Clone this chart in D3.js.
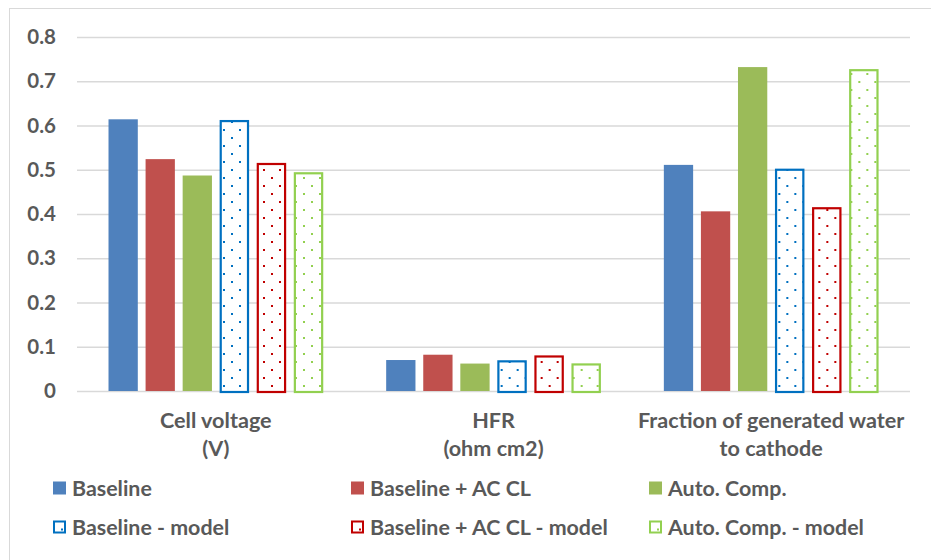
<!DOCTYPE html>
<html>
<head>
<meta charset="utf-8">
<script src="https://cdn.jsdelivr.net/npm/d3@7"></script>
<style>
  html, body { margin: 0; padding: 0; background: #fff; }
  svg { display: block; }
  text { font-family: Lato, "Open Sans", sans-serif; font-weight: 700; fill: #595959; }
</style>
</head>
<body>
<svg id="chart" width="931" height="560"></svg>
<script>
// Category labels (each label is split into lines)
const categories = ["Cell voltage", "HFR", "Fraction of generated water"];
const categoryLines = [["Cell voltage", "(V)"], ["HFR", "(ohm cm2)"], ["Fraction of generated water", "to cathode"]];

// Series names
const seriesNames = [
  "Baseline", "Baseline + AC CL", "Auto. Comp.",
  "Baseline - model", "Baseline + AC CL - model", "Auto. Comp. - model"
];

// Series values, one entry per category
const baseline        = [0.614, 0.070, 0.511];
const baselineAC      = [0.524, 0.082, 0.406];
const autoComp        = [0.487, 0.062, 0.732];
const baselineModel   = [0.610, 0.067, 0.500];
const baselineACModel = [0.513, 0.078, 0.413];
const autoCompModel   = [0.492, 0.060, 0.725];

// Y-axis ticks
const yTicks = [0, 0.1, 0.2, 0.3, 0.4, 0.5, 0.6, 0.7, 0.8];
const yTickLabels = ["0", "0.1", "0.2", "0.3", "0.4", "0.5", "0.6", "0.7", "0.8"];

const seriesValues = [baseline, baselineAC, autoComp, baselineModel, baselineACModel, autoCompModel];
const seriesColors = ["#4F81BD", "#C0504D", "#9BBB59", "#0070C0", "#C00000", "#92D050"];
const seriesIsModel = [false, false, false, true, true, true];

const svg = d3.select("#chart");

// Outer chart frame
svg.append("rect")
  .attr("x", 9.5).attr("y", 8.5)
  .attr("width", 960).attr("height", 600)
  .attr("fill", "none").attr("stroke", "#D9D9D9").attr("stroke-width", 1);

const plot = { left: 77, right: 910, top: 37, bottom: 391 };

const x0 = d3.scaleBand().domain(categories).range([plot.left, plot.right]).padding(0);
const x1 = d3.scaleBand().domain(seriesNames).range([0, x0.bandwidth()])
  .paddingInner(0.21).paddingOuter(0.85);
const y = d3.scaleLinear().domain([0, 0.8]).range([plot.bottom, plot.top]);

// Dot-fill patterns for the model series
const defs = svg.append("defs");
seriesNames.forEach((name, i) => {
  if (!seriesIsModel[i]) return;
  const p = defs.append("pattern")
    .attr("id", "dots" + i)
    .attr("patternUnits", "userSpaceOnUse")
    .attr("width", 16).attr("height", 16)
    .attr("x", 2).attr("y", 1);
  p.append("rect").attr("width", 16).attr("height", 16).attr("fill", "#fff");
  p.append("rect").attr("x", 0).attr("y", 0).attr("width", 2).attr("height", 2).attr("fill", seriesColors[i]);
  p.append("rect").attr("x", 8).attr("y", 8).attr("width", 2).attr("height", 2).attr("fill", seriesColors[i]);
});

// Horizontal gridlines
const grid = svg.append("g")
  .attr("transform", `translate(${plot.left},0)`)
  .call(d3.axisLeft(y).tickValues(yTicks).tickSize(-(plot.right - plot.left)).tickFormat(""));
grid.select(".domain").remove();
grid.selectAll("line").attr("stroke", "#D9D9D9").attr("stroke-width", 1.5);

// Y-axis labels
const yAxis = svg.append("g")
  .attr("transform", `translate(${plot.left},0)`)
  .call(d3.axisLeft(y).tickValues(yTicks).tickSize(0).tickPadding(21)
    .tickFormat((d, i) => yTickLabels[i]));
yAxis.select(".domain").remove();
yAxis.selectAll("text").style("font-size", "20.5px").attr("fill", "#595959");

// Bars
const groups = svg.append("g").selectAll("g")
  .data(categories)
  .join("g")
  .attr("transform", d => `translate(${x0(d)},0)`);

groups.each(function(cat, ci) {
  const g = d3.select(this);
  seriesNames.forEach((name, si) => {
    const v = seriesValues[si][ci];
    const bx = x1(name), bw = x1.bandwidth();
    if (!seriesIsModel[si]) {
      g.append("rect")
        .attr("x", bx).attr("y", y(v))
        .attr("width", bw).attr("height", y(0) - y(v))
        .attr("fill", seriesColors[si]);
    } else {
      g.append("rect")
        .attr("x", bx + 1).attr("y", y(v))
        .attr("width", bw - 2).attr("height", y(0) - y(v) + 1)
        .attr("fill", `url(#dots${si})`)
        .attr("stroke", seriesColors[si]).attr("stroke-width", 2.2);
    }
  });
});

// Category labels
const catLabels = svg.append("g");
categories.forEach((cat, ci) => {
  const t = catLabels.append("text")
    .attr("x", x0(cat) + x0.bandwidth() / 2)
    .attr("y", 428)
    .attr("text-anchor", "middle")
    .style("font-size", "21.6px");
  categoryLines[ci].forEach((line, li) => {
    t.append("tspan")
      .attr("x", x0(cat) + x0.bandwidth() / 2)
      .attr("dy", li === 0 ? 0 : 28)
      .text(line);
  });
});

// Legend, three columns by two rows
const legendCols = [53, 351, 649];
const legendRows = [488, 527];
const legend = svg.append("g");
seriesNames.forEach((name, i) => {
  const cx = legendCols[i % 3], cy = legendRows[Math.floor(i / 3)];
  const item = legend.append("g").attr("transform", `translate(${cx},${cy})`);
  if (!seriesIsModel[i]) {
    item.append("rect").attr("x", 0).attr("y", -6.5).attr("width", 13).attr("height", 13)
      .attr("fill", seriesColors[i]);
  } else {
    item.append("rect").attr("x", 1).attr("y", -5.5).attr("width", 11).attr("height", 11)
      .attr("fill", "#fff").attr("stroke", seriesColors[i]).attr("stroke-width", 2);
    item.append("rect").attr("x", 8).attr("y", 1.5).attr("width", 2).attr("height", 2)
      .attr("fill", seriesColors[i]);
  }
  item.append("text")
    .attr("x", 19).attr("y", 0)
    .attr("dy", "0.35em")
    .style("font-size", "21.4px")
    .text(name);
});
</script>
</body>
</html>
